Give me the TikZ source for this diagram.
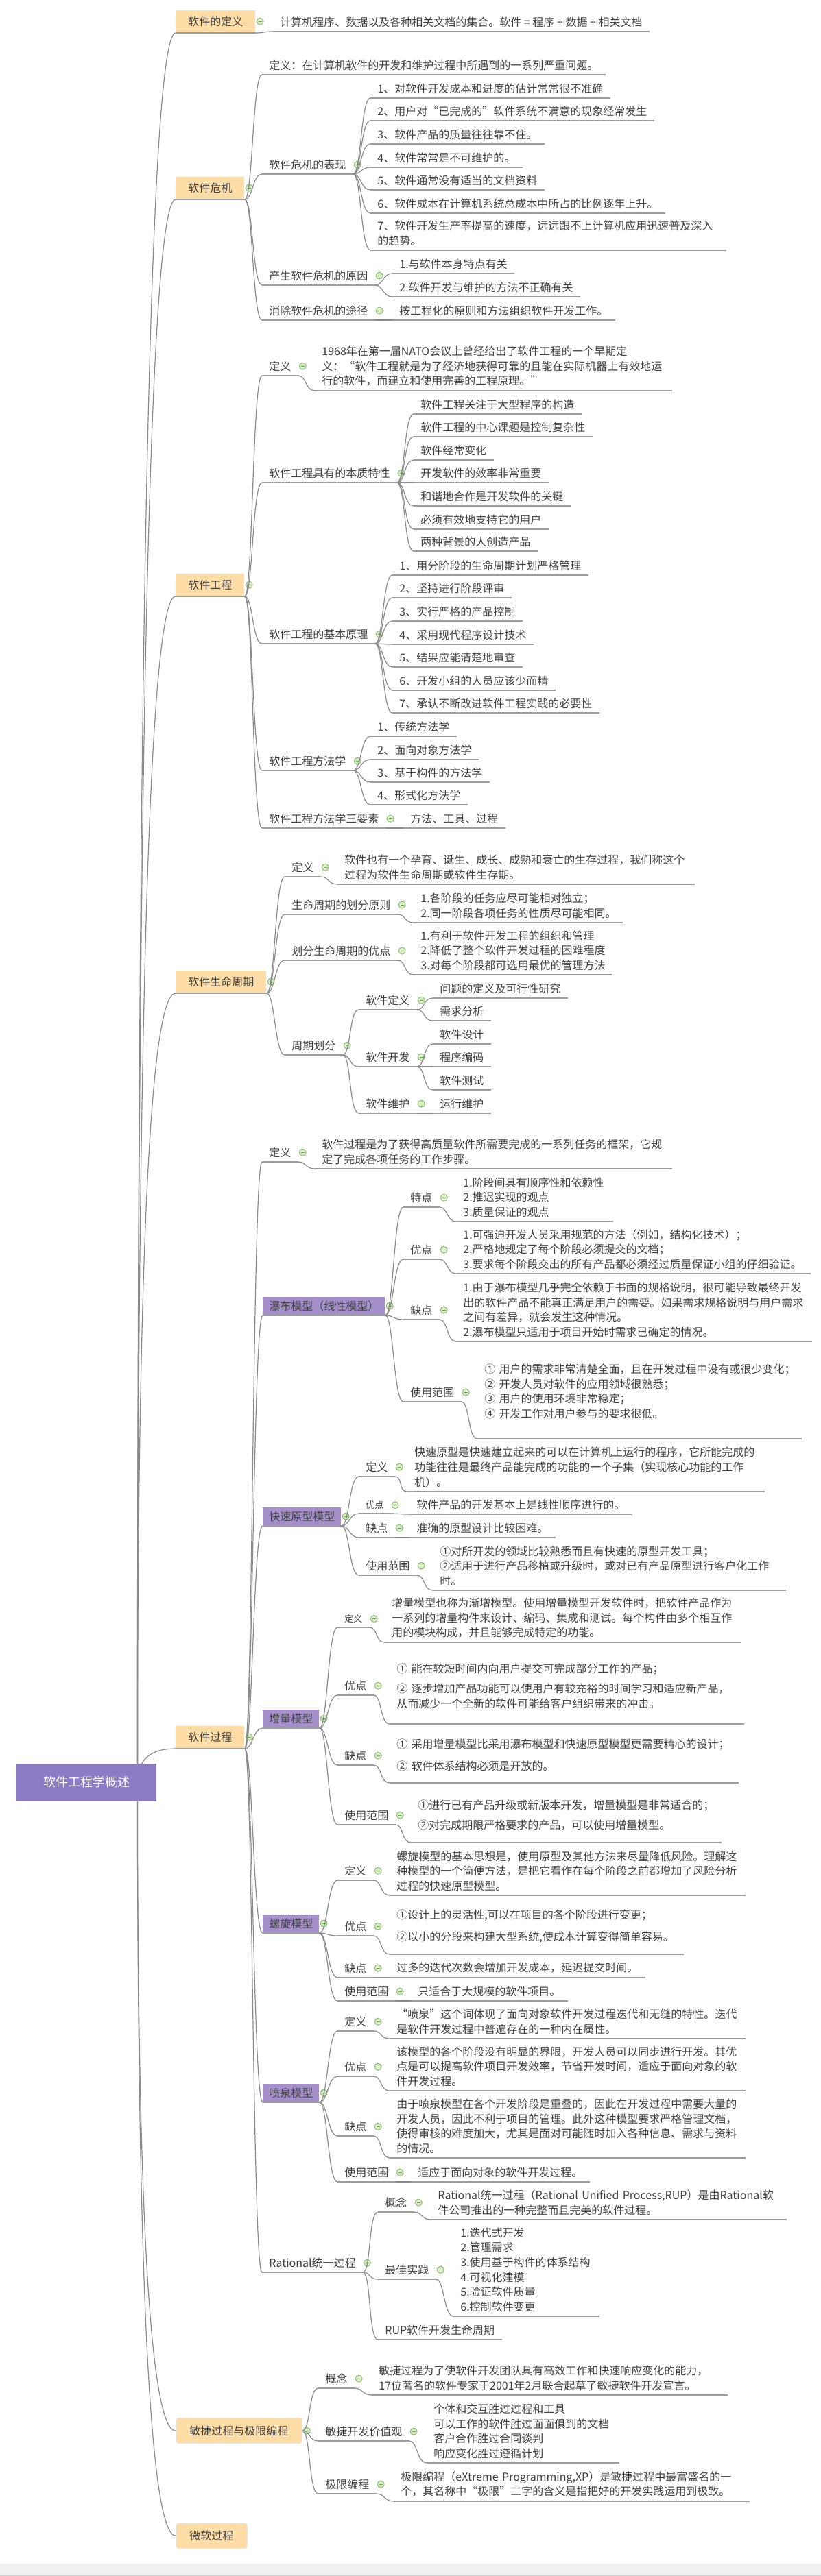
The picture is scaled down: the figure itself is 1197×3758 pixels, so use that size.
\documentclass[tikz,border=0pt]{standalone}
\usepackage{fontspec}
\setmainfont{Noto Sans CJK SC}
\usetikzlibrary{positioning,calc,backgrounds}
\definecolor{peach}{HTML}{FDDCA6}
\definecolor{lilac}{HTML}{A48FCB}
\definecolor{rootc}{HTML}{8C7BC4}
\definecolor{txtc}{HTML}{404040}
\definecolor{lineg}{HTML}{8A8A8A}
\definecolor{ulg}{HTML}{9C9C9C}
\definecolor{foldf}{HTML}{DCEFCB}
\definecolor{foldd}{HTML}{8CC06E}
\newcommand\tfont{\fontsize{8pt}{10.8pt}\selectfont}
\newcommand\sfont{\fontsize{6.5pt}{9pt}\selectfont}
\hfuzz=50pt
\tikzset{
  % 主题与下划线
  ul/.style={draw=ulg,line width=1pt},
  tp/.style={anchor=south west,inner xsep=5pt,inner ysep=3pt,align=left,font=\tfont,text=txtc,
             append after command={(\tikzlastnode.south west) edge[ul] (\tikzlastnode.south east)}},
  lv1/.style={anchor=south west,fill=peach,inner xsep=9pt,inner ysep=0pt,minimum height=16.5pt,
              font=\tfont,text=txtc,
              append after command={(\tikzlastnode.south west) edge[ul] (\tikzlastnode.south east)}},
  lv1r/.style={anchor=south west,fill=peach,draw=black!10,rounded corners=2pt,inner xsep=10pt,
               minimum height=18.5pt,font=\tfont,text=txtc},
  lv2/.style={anchor=south west,fill=lilac,inner xsep=4.5pt,inner ysep=0pt,minimum height=13.5pt,
              font=\tfont,text=txtc,
              append after command={(\tikzlastnode.south west) edge[ul] (\tikzlastnode.south east)}},
  root/.style={fill=rootc,text=white,font=\fontsize{9pt}{11pt}\selectfont,minimum height=27.5pt,
               minimum width=102pt},
  % 折叠标记
  foldmark/.pic={\draw[foldd,fill=foldf,line width=0.5pt] (0,0) circle (2.5pt);
                 \draw[foldd!80!black,line width=0.6pt] (-1.3pt,0) -- (1.3pt,0);},
  fd/.style={append after command={([xshift=3.2pt]\tikzlastnode.east) pic{foldmark}}},
  % 连线
  cn/.style={draw=lineg,line width=0.6pt,
             to path={.. controls ([xshift=6pt]\tikztostart) and ([xshift=-7pt]\tikztotarget) .. (\tikztotarget)}},
  rc/.style={draw=lineg,line width=0.6pt,
             to path={.. controls ($(\tikztostart)!.667!(\tikztostart|-\tikztotarget)$)
                       and ($(\tikztotarget)!.667!(\tikztostart|-\tikztotarget)$) .. (\tikztotarget)}},
}
\begin{document}
\begin{tikzpicture}[x=0.5pt,y=-0.5pt]
\useasboundingbox (0,0) rectangle (1197,3758);
\fill[black!6] (0,3740) rectangle (1197,3758);
\draw[black!20] (0,3757.5) -- (1197,3757.5);

\node[root] (root) at (126,2600) {软件工程学概述};
\coordinate (rootout) at ([xshift=-14pt]root.east);

% 软件的定义
\node[lv1,fd] (def) at (256,48) {软件的定义};
\node[tp] (def1) at (398,46) {计算机程序、数据以及各种相关文档的集合。软件 = 程序 + 数据 + 相关文档};
\path (def.south east) edge[cn] (def1.south west);

% 软件危机
\node[lv1,fd] (cri) at (256,291) {软件危机};
\node[tp] (cri-def) at (382,109) {定义：在计算机软件的开发和维护过程中所遇到的一系列严重问题。};
\node[tp,fd] (cri-sym) at (382,254) {软件危机的表现};
\node[tp] (sym1) at (540,143) {1、对软件开发成本和进度的估计常常很不准确};
\node[tp] (sym2) at (540,176) {2、用户对“已完成的”软件系统不满意的现象经常发生};
\node[tp] (sym3) at (540,210) {3、软件产品的质量往往靠不住。};
\node[tp] (sym4) at (540,244) {4、软件常常是不可维护的。};
\node[tp] (sym5) at (540,277) {5、软件通常没有适当的文档资料};
\node[tp] (sym6) at (540,311) {6、软件成本在计算机系统总成本中所占的比例逐年上升。};
\node[tp,text width=249pt] (sym7) at (540,365) {7、软件开发生产率提高的速度，远远跟不上计算机应用迅速普及深入\\的趋势。};
\node[tp,fd] (cri-why) at (382,416) {产生软件危机的原因};
\node[tp] (why1) at (572,399) {1.与软件本身特点有关};
\node[tp] (why2) at (572,433) {2.软件开发与维护的方法不正确有关};
\node[tp,fd] (cri-way) at (382,467) {消除软件危机的途径};
\node[tp] (way1) at (572,467) {按工程化的原则和方法组织软件开发工作。};
\path (cri.south east) edge[cn] (cri-def.south west) edge[cn] (cri-sym.south west)
  edge[cn] (cri-why.south west) edge[cn] (cri-way.south west);
\path (cri-sym.south east) edge[cn] (sym1.south west) edge[cn] (sym2.south west)
  edge[cn] (sym3.south west) edge[cn] (sym4.south west) edge[cn] (sym5.south west)
  edge[cn] (sym6.south west) edge[cn] (sym7.south west);
\path (cri-why.south east) edge[cn] (why1.south west) edge[cn] (why2.south west);
\path (cri-way.south east) edge[cn] (way1.south west);

% 软件工程
\node[lv1,fd] (se) at (256,870) {软件工程};
\node[tp,fd] (se-def) at (382,548) {定义};
\node[tp,text width=250pt] (se-def1) at (459,570) {1968年在第一届NATO会议上曾经给出了软件工程的一个早期定\\义：“软件工程就是为了经济地获得可靠的且能在实际机器上有效地运\\行的软件，而建立和使用完善的工程原理。”};
\node[tp,fd] (se-ess) at (382,704) {软件工程具有的本质特性};
\node[tp] (ess1) at (603,604) {软件工程关注于大型程序的构造};
\node[tp] (ess2) at (603,637) {软件工程的中心课题是控制复杂性};
\node[tp] (ess3) at (603,671) {软件经常变化};
\node[tp] (ess4) at (603,704) {开发软件的效率非常重要};
\node[tp] (ess5) at (603,738) {和谐地合作是开发软件的关键};
\node[tp] (ess6) at (603,772) {必须有效地支持它的用户};
\node[tp] (ess7) at (603,804) {两种背景的人创造产品};
\node[tp,fd] (se-pri) at (382,939) {软件工程的基本原理};
\node[tp] (pri1) at (572,839) {1、用分阶段的生命周期计划严格管理};
\node[tp] (pri2) at (572,872) {2、坚持进行阶段评审};
\node[tp] (pri3) at (572,906) {3、实行严格的产品控制};
\node[tp] (pri4) at (572,940) {4、采用现代程序设计技术};
\node[tp] (pri5) at (572,973) {5、结果应能清楚地审查};
\node[tp] (pri6) at (572,1007) {6、开发小组的人员应该少而精};
\node[tp] (pri7) at (572,1040) {7、承认不断改进软件工程实践的必要性};
\node[tp,fd] (se-mth) at (382,1124) {软件工程方法学};
\node[tp] (mth1) at (540,1074) {1、传统方法学};
\node[tp] (mth2) at (540,1108) {2、面向对象方法学};
\node[tp] (mth3) at (540,1141) {3、基于构件的方法学};
\node[tp] (mth4) at (540,1174) {4、形式化方法学};
\node[tp,fd] (se-ele) at (382,1208) {软件工程方法学三要素};
\node[tp] (ele1) at (588,1208) {方法、工具、过程};
\path (se.south east) edge[cn] (se-def.south west) edge[cn] (se-ess.south west)
  edge[cn] (se-pri.south west) edge[cn] (se-mth.south west) edge[cn] (se-ele.south west);
\path (se-def.south east) edge[cn] (se-def1.south west);
\path (se-ess.south east) edge[cn] (ess1.south west) edge[cn] (ess2.south west)
  edge[cn] (ess3.south west) edge[cn] (ess4.south west) edge[cn] (ess5.south west)
  edge[cn] (ess6.south west) edge[cn] (ess7.south west);
\path (se-pri.south east) edge[cn] (pri1.south west) edge[cn] (pri2.south west)
  edge[cn] (pri3.south west) edge[cn] (pri4.south west) edge[cn] (pri5.south west)
  edge[cn] (pri6.south west) edge[cn] (pri7.south west);
\path (se-mth.south east) edge[cn] (mth1.south west) edge[cn] (mth2.south west)
  edge[cn] (mth3.south west) edge[cn] (mth4.south west);
\path (se-ele.south east) edge[cn] (ele1.south west);

% 软件生命周期
\node[lv1,fd] (lc) at (256,1449) {软件生命周期};
\node[tp,fd] (lc-def) at (415,1279) {定义};
\node[tp,text width=250pt] (lc-def1) at (492,1290) {软件也有一个孕育、诞生、成长、成熟和衰亡的生存过程，我们称这个\\过程为软件生命周期或软件生存期。};
\node[tp,fd] (lc-rule) at (415,1334) {生命周期的划分原则};
\node[tp,text width=142pt] (lc-rule1) at (603,1346) {1.各阶段的任务应尽可能相对独立；\\2.同一阶段各项任务的性质尽可能相同。};
\node[tp,fd] (lc-adv) at (415,1401) {划分生命周期的优点};
\node[tp,text width=134pt] (lc-adv1) at (603,1422) {1.有利于软件开发工程的组织和管理\\2.降低了整个软件开发过程的困难程度\\3.对每个阶段都可选用最优的管理方法};
\node[tp,fd] (lc-ph) at (415,1539) {周期划分};
\node[tp,fd] (ph-def) at (523,1473) {软件定义};
\node[tp] (ph-def1) at (631,1456) {问题的定义及可行性研究};
\node[tp] (ph-def2) at (631,1489) {需求分析};
\node[tp,fd] (ph-dev) at (523,1556) {软件开发};
\node[tp] (ph-dev1) at (631,1523) {软件设计};
\node[tp] (ph-dev2) at (631,1556) {程序编码};
\node[tp] (ph-dev3) at (631,1590) {软件测试};
\node[tp,fd] (ph-mnt) at (523,1624) {软件维护};
\node[tp] (ph-mnt1) at (631,1624) {运行维护};
\path (lc.south east) edge[cn] (lc-def.south west) edge[cn] (lc-rule.south west)
  edge[cn] (lc-adv.south west) edge[cn] (lc-ph.south west);
\path (lc-def.south east) edge[cn] (lc-def1.south west);
\path (lc-rule.south east) edge[cn] (lc-rule1.south west);
\path (lc-adv.south east) edge[cn] (lc-adv1.south west);
\path (lc-ph.south east) edge[cn] (ph-def.south west) edge[cn] (ph-dev.south west)
  edge[cn] (ph-mnt.south west);
\path (ph-def.south east) edge[cn] (ph-def1.south west) edge[cn] (ph-def2.south west);
\path (ph-dev.south east) edge[cn] (ph-dev1.south west) edge[cn] (ph-dev2.south west)
  edge[cn] (ph-dev3.south west);
\path (ph-mnt.south east) edge[cn] (ph-mnt1.south west);

% 软件过程
\node[lv1,fd] (proc) at (256,2551) {软件过程};
\node[tp,fd] (pr-def) at (382,1695) {定义};
\node[tp,text width=250pt] (pr-def1) at (459,1705) {软件过程是为了获得高质量软件所需要完成的一系列任务的框架，它规\\定了完成各项任务的工作步骤。};
% 瀑布模型
\node[lv2,fd] (wf) at (383,1919) {瀑布模型（线性模型）};
\node[tp,fd] (wf-ft) at (588,1761) {特点};
\node[tp,text width=104pt] (wf-ft1) at (665,1782) {1.阶段间具有顺序性和依赖性\\2.推迟实现的观点\\3.质量保证的观点};
\node[tp,fd] (wf-pro) at (588,1837) {优点};
\node[tp,text width=248pt] (wf-pro1) at (665,1858) {1.可强迫开发人员采用规范的方法（例如，结构化技术）；\\2.严格地规定了每个阶段必须提交的文档；\\3.要求每个阶段交出的所有产品都必须经过质量保证小组的仔细验证。};
\node[tp,fd] (wf-con) at (588,1925) {缺点};
\node[tp,text width=249pt] (wf-con1) at (665,1957) {1.由于瀑布模型几乎完全依赖于书面的规格说明，很可能导致最终开发\\出的软件产品不能真正满足用户的需要。如果需求规格说明与用户需求\\之间有差异，就会发生这种情况。\\2.瀑布模型只适用于项目开始时需求已确定的情况。};
\node[tp,fd] (wf-use) at (588,2045) {使用范围};
\node[tp,text width=226pt,inner ysep=14.5pt] (wf-use1) at (696,2099) {① 用户的需求非常清楚全面，且在开发过程中没有或很少变化；\\② 开发人员对软件的应用领域很熟悉；\\③ 用户的使用环境非常稳定；\\④ 开发工作对用户参与的要求很低。};
% 快速原型模型
\node[lv2,fd] (rp) at (383,2226) {快速原型模型};
\node[tp,fd] (rp-def) at (523,2154) {定义};
\node[tp,text width=250pt] (rp-def1) at (594,2176) {快速原型是快速建立起来的可以在计算机上运行的程序，它所能完成的\\功能往往是最终产品能完成的功能的一个子集（实现核心功能的工作\\机）。};
\node[tp,fd,font=\sfont] (rp-pro) at (523,2208) {优点};
\node[tp] (rp-pro1) at (597,2209) {软件产品的开发基本上是线性顺序进行的。};
\node[tp,fd] (rp-con) at (523,2243) {缺点};
\node[tp] (rp-con1) at (597,2243) {准确的原型设计比较困难。};
\node[tp,fd] (rp-use) at (523,2298) {使用范围};
\node[tp,text width=247pt] (rp-use1) at (631,2320) {①对所开发的领域比较熟悉而且有快速的原型开发工具；\\②适用于进行产品移植或升级时，或对已有产品原型进行客户化工作\\时。};
% 增量模型
\node[lv2,fd] (inc) at (383,2521) {增量模型};
\node[tp,fd,font=\sfont] (inc-def) at (492,2374) {定义};
\node[tp,text width=249pt] (inc-def1) at (561,2396) {增量模型也称为渐增模型。使用增量模型开发软件时，把软件产品作为\\一系列的增量构件来设计、编码、集成和测试。每个构件由多个相互作\\用的模块构成，并且能够完成特定的功能。};
\node[tp,fd] (inc-pro) at (492,2473) {优点};
\node[tp,text width=248pt,inner ysep=11pt] (inc-pro1) at (568,2515) {① 能在较短时间内向用户提交可完成部分工作的产品；\\[4pt]② 逐步增加产品功能可以使用户有较充裕的时间学习和适应新产品，\\从而减少一个全新的软件可能给客户组织带来的冲击。};
\node[tp,fd] (inc-con) at (492,2575) {缺点};
\node[tp,text width=244pt,inner ysep=8.5pt] (inc-con1) at (568,2601) {① 采用增量模型比采用瀑布模型和快速原型模型更需要精心的设计；\\[5pt]② 软件体系结构必须是开放的。};
\node[tp,fd] (inc-use) at (492,2662) {使用范围};
\node[tp,text width=216pt,inner ysep=8.5pt] (inc-use1) at (599,2688) {①进行已有产品升级或新版本开发，增量模型是非常适合的；\\[4pt]②对完成期限严格要求的产品，可以使用增量模型。};
% 螺旋模型
\node[lv2,fd] (sp) at (383,2820) {螺旋模型};
\node[tp,fd] (sp-def) at (492,2743) {定义};
\node[tp,text width=249pt] (sp-def1) at (568,2765) {螺旋模型的基本思想是，使用原型及其他方法来尽量降低风险。理解这\\种模型的一个简便方法，是把它看作在每个阶段之前都增加了风险分析\\过程的快速原型模型。};
\node[tp,fd] (sp-pro) at (492,2824) {优点};
\node[tp,text width=204pt,inner ysep=8pt] (sp-pro1) at (568,2851) {①设计上的灵活性,可以在项目的各个阶段进行变更；\\[5pt]②以小的分段来构建大型系统,使成本计算变得简单容易。};
\node[tp,fd] (sp-con) at (492,2885) {缺点};
\node[tp] (sp-con1) at (568,2885) {过多的迭代次数会增加开发成本，延迟提交时间。};
\node[tp,fd] (sp-use) at (492,2919) {使用范围};
\node[tp] (sp-use1) at (599,2919) {只适合于大规模的软件项目。};
% 喷泉模型
\node[lv2,fd] (fn) at (383,3067) {喷泉模型};
\node[tp,fd] (fn-def) at (492,2963) {定义};
\node[tp,text width=249pt] (fn-def1) at (568,2974) {“喷泉”这个词体现了面向对象软件开发过程迭代和无缝的特性。迭代\\是软件开发过程中普遍存在的一种内在属性。};
\node[tp,fd] (fn-pro) at (492,3029) {优点};
\node[tp,text width=249pt] (fn-pro1) at (568,3050) {该模型的各个阶段没有明显的界限，开发人员可以同步进行开发。其优\\点是可以提高软件项目开发效率，节省开发时间，适应于面向对象的软\\件开发过程。};
\node[tp,fd] (fn-con) at (492,3116) {缺点};
\node[tp,text width=249pt] (fn-con1) at (568,3148) {由于喷泉模型在各个开发阶段是重叠的，因此在开发过程中需要大量的\\开发人员，因此不利于项目的管理。此外这种模型要求严格管理文档，\\使得审核的难度加大，尤其是面对可能随时加入各种信息、需求与资料\\的情况。};
\node[tp,fd] (fn-use) at (492,3183) {使用范围};
\node[tp] (fn-use1) at (599,3183) {适应于面向对象的软件开发过程。};
% Rational统一过程
\node[tp,fd] (rup) at (382,3315) {Rational统一过程};
\node[tp,fd] (rup-con) at (551,3227) {概念};
\node[tp,text width=249pt] (rup-con1) at (628,3238) {Rational统一过程（Rational Unified Process,RUP）是由Rational软\\件公司推出的一种完整而且完美的软件过程。};
\node[tp,fd] (rup-bp) at (551,3325) {最佳实践};
\node[tp,text width=96pt] (rup-bp1) at (661,3379) {1.迭代式开发\\2.管理需求\\3.使用基于构件的体系结构\\4.可视化建模\\5.验证软件质量\\6.控制软件变更};
\node[tp] (rup-lc) at (551,3413) {RUP软件开发生命周期};
\path (proc.south east) edge[cn] (pr-def.south west) edge[cn] (wf.south west)
  edge[cn] (rp.south west) edge[cn] (inc.south west) edge[cn] (sp.south west)
  edge[cn] (fn.south west) edge[cn] (rup.south west);
\path (pr-def.south east) edge[cn] (pr-def1.south west);
\path (wf.south east) edge[cn] (wf-ft.south west) edge[cn] (wf-pro.south west)
  edge[cn] (wf-con.south west) edge[cn] (wf-use.south west);
\path (wf-ft.south east) edge[cn] (wf-ft1.south west);
\path (wf-pro.south east) edge[cn] (wf-pro1.south west);
\path (wf-con.south east) edge[cn] (wf-con1.south west);
\path (wf-use.south east) edge[cn] (wf-use1.south west);
\path (rp.south east) edge[cn] (rp-def.south west) edge[cn] (rp-pro.south west)
  edge[cn] (rp-con.south west) edge[cn] (rp-use.south west);
\path (rp-def.south east) edge[cn] (rp-def1.south west);
\path (rp-pro.south east) edge[cn] (rp-pro1.south west);
\path (rp-con.south east) edge[cn] (rp-con1.south west);
\path (rp-use.south east) edge[cn] (rp-use1.south west);
\path (inc.south east) edge[cn] (inc-def.south west) edge[cn] (inc-pro.south west)
  edge[cn] (inc-con.south west) edge[cn] (inc-use.south west);
\path (inc-def.south east) edge[cn] (inc-def1.south west);
\path (inc-pro.south east) edge[cn] (inc-pro1.south west);
\path (inc-con.south east) edge[cn] (inc-con1.south west);
\path (inc-use.south east) edge[cn] (inc-use1.south west);
\path (sp.south east) edge[cn] (sp-def.south west) edge[cn] (sp-pro.south west)
  edge[cn] (sp-con.south west) edge[cn] (sp-use.south west);
\path (sp-def.south east) edge[cn] (sp-def1.south west);
\path (sp-pro.south east) edge[cn] (sp-pro1.south west);
\path (sp-con.south east) edge[cn] (sp-con1.south west);
\path (sp-use.south east) edge[cn] (sp-use1.south west);
\path (fn.south east) edge[cn] (fn-def.south west) edge[cn] (fn-pro.south west)
  edge[cn] (fn-con.south west) edge[cn] (fn-use.south west);
\path (fn-def.south east) edge[cn] (fn-def1.south west);
\path (fn-pro.south east) edge[cn] (fn-pro1.south west);
\path (fn-con.south east) edge[cn] (fn-con1.south west);
\path (fn-use.south east) edge[cn] (fn-use1.south west);
\path (rup.south east) edge[cn] (rup-con.south west) edge[cn] (rup-bp.south west)
  edge[cn] (rup-lc.south west);
\path (rup-con.south east) edge[cn] (rup-con1.south west);
\path (rup-bp.south east) edge[cn] (rup-bp1.south west);

% 敏捷过程与极限编程
\node[lv1r,fd] (ag) at (256,3565) {敏捷过程与极限编程};
\node[tp,fd] (ag-con) at (464,3484) {概念};
\node[tp,text width=249pt] (ag-con1) at (542,3494) {敏捷过程为了使软件开发团队具有高效工作和快速响应变化的能力，\\17位著名的软件专家于2001年2月联合起草了敏捷软件开发宣言。};
\node[tp,fd] (ag-val) at (464,3561) {敏捷开发价值观};
\node[tp,text width=130pt] (ag-val1) at (622,3593) {个体和交互胜过过程和工具\\可以工作的软件胜过面面俱到的文档\\客户合作胜过合同谈判\\响应变化胜过遵循计划};
\node[tp,fd] (ag-xp) at (464,3638) {极限编程};
\node[tp,text width=249pt] (ag-xp1) at (574,3649) {极限编程（eXtreme Programming,XP）是敏捷过程中最富盛名的一\\个，其名称中“极限”二字的含义是指把好的开发实践运用到极致。};
\path (ag.east) edge[cn] (ag-con.south west) edge[cn] (ag-val.south west)
  edge[cn] (ag-xp.south west);
\path (ag-con.south east) edge[cn] (ag-con1.south west);
\path (ag-val.south east) edge[cn] (ag-val1.south west);
\path (ag-xp.south east) edge[cn] (ag-xp1.south west);

% 微软过程
\node[lv1r] (ms) at (256,3718) {微软过程};

\begin{scope}[on background layer]
\path (rootout) edge[rc] (def.south west) edge[rc] (cri.south west) edge[rc] (se.south west)
  edge[rc] (lc.south west) edge[rc] (proc.south west) edge[rc] (ag.west) edge[rc] (ms.west);
\end{scope}
\end{tikzpicture}
\end{document}
